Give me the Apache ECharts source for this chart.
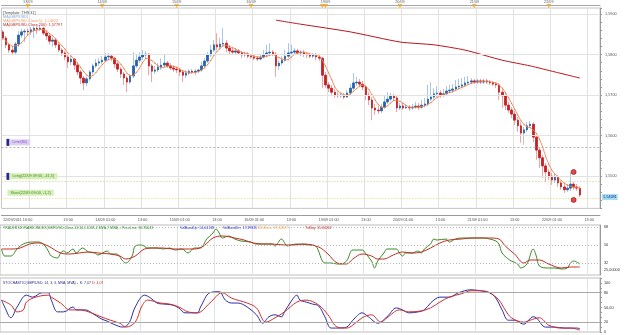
<!DOCTYPE html>
<html>
<head>
<meta charset="utf-8">
<script src="https://cdn.jsdelivr.net/npm/echarts@6/dist/echarts.min.js"></script>
<style>
  html, body { margin: 0; padding: 0; background: #fff; }
  #chart { width: 625px; height: 335px; }
</style>
</head>
<body>
<div id="chart"></div>
<script>
// trading sessions (hourly bars, weekend removed)
const sessions = [
  ['12/09', 16, 23], ['13/09', 0, 23], ['14/09', 0, 23], ['15/09', 0, 23], ['16/09', 0, 23],
  ['19/09', 0, 23], ['20/09', 0, 23], ['21/09', 0, 23], ['22/09', 0, 16]
];
const days = [];
const hours = [];
sessions.forEach(([d, a, b]) => {
  for (let h = a; h <= b; h++) { days.push(d); hours.push(h); }
});
const categories = hours.map((h, i) => days[i] + ' ' + String(h).padStart(2, '0') + ':00');

// GBP/USD hourly candles
const opens = [
  1.5856, 1.5841, 1.5824, 1.5811, 1.5806, 1.5826, 1.5848, 1.5856, 1.5858, 1.5856,
  1.5861, 1.5865, 1.5863, 1.5865, 1.5853, 1.5846, 1.5833, 1.5836, 1.5824, 1.5811,
  1.5804, 1.5794, 1.5782, 1.5789, 1.5774, 1.5757, 1.5742, 1.5730, 1.5740, 1.5757,
  1.5772, 1.5779, 1.5782, 1.5786, 1.5794, 1.5796, 1.5791, 1.5777, 1.5764, 1.5752,
  1.5742, 1.5732, 1.5747, 1.5772, 1.5786, 1.5794, 1.5799, 1.5801, 1.5772, 1.5759,
  1.5762, 1.5769, 1.5774, 1.5779, 1.5772, 1.5767, 1.5764, 1.5762, 1.5757, 1.5749,
  1.5754, 1.5759, 1.5757, 1.5759, 1.5762, 1.5772, 1.5784, 1.5799, 1.5811, 1.5824,
  1.5819, 1.5826, 1.5828, 1.5816, 1.5809, 1.5806, 1.5809, 1.5804, 1.5799, 1.5801,
  1.5796, 1.5794, 1.5791, 1.5789, 1.5794, 1.5799, 1.5804, 1.5806, 1.5801, 1.5772,
  1.5779, 1.5786, 1.5796, 1.5804, 1.5806, 1.5809, 1.5804, 1.5806, 1.5801, 1.5799,
  1.5796, 1.5799, 1.5794, 1.5791, 1.5749, 1.5725, 1.5717, 1.5707, 1.5700, 1.5698,
  1.5700, 1.5695, 1.5705, 1.5717, 1.5730, 1.5732, 1.5727, 1.5720, 1.5700, 1.5688,
  1.5668, 1.5663, 1.5661, 1.5670, 1.5683, 1.5690, 1.5698, 1.5693, 1.5668, 1.5673,
  1.5668, 1.5670, 1.5668, 1.5670, 1.5673, 1.5670, 1.5675, 1.5678, 1.5690, 1.5695,
  1.5703, 1.5705, 1.5700, 1.5703, 1.5710, 1.5712, 1.5715, 1.5720, 1.5722, 1.5725,
  1.5730, 1.5732, 1.5735, 1.5732, 1.5735, 1.5732, 1.5735, 1.5732, 1.5730, 1.5727,
  1.5725, 1.5707, 1.5698, 1.5675, 1.5663, 1.5653, 1.5638, 1.5624, 1.5606, 1.5614,
  1.5624, 1.5628, 1.5596, 1.5564, 1.5545, 1.5525, 1.5510, 1.5500, 1.5490, 1.5498,
  1.5483, 1.5473, 1.5466, 1.5470, 1.5480, 1.5473, 1.5470
];
const closes = [
  1.5841, 1.5824, 1.5811, 1.5806, 1.5826, 1.5848, 1.5856, 1.5858, 1.5856, 1.5861,
  1.5865, 1.5863, 1.5865, 1.5853, 1.5846, 1.5833, 1.5836, 1.5824, 1.5811, 1.5804,
  1.5794, 1.5782, 1.5789, 1.5774, 1.5757, 1.5742, 1.5730, 1.5740, 1.5757, 1.5772,
  1.5779, 1.5782, 1.5786, 1.5794, 1.5796, 1.5791, 1.5777, 1.5764, 1.5752, 1.5742,
  1.5732, 1.5747, 1.5772, 1.5786, 1.5794, 1.5799, 1.5801, 1.5772, 1.5759, 1.5762,
  1.5769, 1.5774, 1.5779, 1.5772, 1.5767, 1.5764, 1.5762, 1.5757, 1.5749, 1.5754,
  1.5759, 1.5757, 1.5759, 1.5762, 1.5772, 1.5784, 1.5799, 1.5811, 1.5824, 1.5819,
  1.5826, 1.5828, 1.5816, 1.5809, 1.5806, 1.5809, 1.5804, 1.5799, 1.5801, 1.5796,
  1.5794, 1.5791, 1.5789, 1.5794, 1.5799, 1.5804, 1.5806, 1.5801, 1.5772, 1.5779,
  1.5786, 1.5796, 1.5804, 1.5806, 1.5809, 1.5804, 1.5806, 1.5801, 1.5799, 1.5796,
  1.5799, 1.5794, 1.5791, 1.5749, 1.5725, 1.5717, 1.5707, 1.5700, 1.5698, 1.5700,
  1.5695, 1.5705, 1.5717, 1.5730, 1.5732, 1.5727, 1.5720, 1.5700, 1.5688, 1.5668,
  1.5663, 1.5661, 1.5670, 1.5683, 1.5690, 1.5698, 1.5693, 1.5668, 1.5673, 1.5668,
  1.5670, 1.5668, 1.5670, 1.5673, 1.5670, 1.5675, 1.5678, 1.5690, 1.5695, 1.5703,
  1.5705, 1.5700, 1.5703, 1.5710, 1.5712, 1.5715, 1.5720, 1.5722, 1.5725, 1.5730,
  1.5732, 1.5735, 1.5732, 1.5735, 1.5732, 1.5735, 1.5732, 1.5730, 1.5727, 1.5725,
  1.5707, 1.5698, 1.5675, 1.5663, 1.5653, 1.5638, 1.5624, 1.5606, 1.5614, 1.5624,
  1.5628, 1.5596, 1.5564, 1.5545, 1.5525, 1.5510, 1.5500, 1.5490, 1.5498, 1.5483,
  1.5473, 1.5466, 1.5470, 1.5480, 1.5473, 1.5470, 1.5453
];
const highs = [
  1.5861, 1.5846, 1.5828, 1.5819, 1.5831, 1.5858, 1.5863, 1.5863, 1.5865, 1.5868,
  1.5870, 1.5870, 1.5873, 1.5868, 1.5858, 1.5851, 1.5843, 1.5841, 1.5828, 1.5816,
  1.5809, 1.5799, 1.5796, 1.5791, 1.5779, 1.5762, 1.5747, 1.5745, 1.5762, 1.5777,
  1.5789, 1.5791, 1.5796, 1.5804, 1.5804, 1.5801, 1.5794, 1.5782, 1.5769, 1.5757,
  1.5747, 1.5752, 1.5806, 1.5799, 1.5806, 1.5811, 1.5809, 1.5804, 1.5777, 1.5772,
  1.5779, 1.5791, 1.5799, 1.5784, 1.5779, 1.5772, 1.5769, 1.5767, 1.5762, 1.5762,
  1.5764, 1.5764, 1.5764, 1.5764, 1.5782, 1.5791, 1.5806, 1.5824, 1.5836, 1.5853,
  1.5841, 1.5865, 1.5836, 1.5824, 1.5816, 1.5816, 1.5814, 1.5809, 1.5806, 1.5806,
  1.5801, 1.5799, 1.5796, 1.5799, 1.5811, 1.5824, 1.5828, 1.5811, 1.5806, 1.5786,
  1.5796, 1.5811, 1.5828, 1.5824, 1.5816, 1.5814, 1.5811, 1.5811, 1.5806, 1.5804,
  1.5804, 1.5804, 1.5799, 1.5794, 1.5757, 1.5732, 1.5725, 1.5715, 1.5707, 1.5705,
  1.5705, 1.5712, 1.5727, 1.5754, 1.5745, 1.5740, 1.5735, 1.5725, 1.5707, 1.5695,
  1.5678, 1.5673, 1.5678, 1.5698, 1.5707, 1.5705, 1.5703, 1.5698, 1.5680, 1.5680,
  1.5678, 1.5675, 1.5678, 1.5683, 1.5680, 1.5688, 1.5693, 1.5725, 1.5732, 1.5717,
  1.5722, 1.5712, 1.5715, 1.5722, 1.5725, 1.5727, 1.5737, 1.5740, 1.5742, 1.5745,
  1.5747, 1.5742, 1.5740, 1.5740, 1.5740, 1.5740, 1.5740, 1.5737, 1.5735, 1.5732,
  1.5730, 1.5715, 1.5705, 1.5683, 1.5670, 1.5661, 1.5646, 1.5633, 1.5621, 1.5633,
  1.5636, 1.5633, 1.5601, 1.5572, 1.5552, 1.5532, 1.5517, 1.5508, 1.5505, 1.5503,
  1.5488, 1.5480, 1.5478, 1.5510, 1.5485, 1.5480, 1.5475
];
const lows = [
  1.5836, 1.5816, 1.5804, 1.5799, 1.5801, 1.5819, 1.5841, 1.5831, 1.5846, 1.5848,
  1.5841, 1.5851, 1.5858, 1.5848, 1.5836, 1.5824, 1.5819, 1.5816, 1.5806, 1.5796,
  1.5786, 1.5767, 1.5774, 1.5762, 1.5749, 1.5727, 1.5712, 1.5722, 1.5735, 1.5752,
  1.5767, 1.5772, 1.5777, 1.5782, 1.5786, 1.5784, 1.5767, 1.5757, 1.5742, 1.5725,
  1.5707, 1.5727, 1.5742, 1.5767, 1.5779, 1.5786, 1.5791, 1.5749, 1.5732, 1.5752,
  1.5757, 1.5762, 1.5769, 1.5767, 1.5762, 1.5757, 1.5754, 1.5747, 1.5732, 1.5742,
  1.5749, 1.5752, 1.5749, 1.5754, 1.5757, 1.5767, 1.5779, 1.5794, 1.5806, 1.5811,
  1.5811, 1.5819, 1.5806, 1.5801, 1.5801, 1.5801, 1.5799, 1.5791, 1.5794, 1.5791,
  1.5789, 1.5786, 1.5784, 1.5786, 1.5791, 1.5796, 1.5799, 1.5796, 1.5745, 1.5762,
  1.5774, 1.5782, 1.5791, 1.5799, 1.5801, 1.5799, 1.5796, 1.5794, 1.5791, 1.5791,
  1.5791, 1.5786, 1.5784, 1.5717, 1.5717, 1.5707, 1.5698, 1.5693, 1.5693, 1.5693,
  1.5690, 1.5693, 1.5700, 1.5712, 1.5722, 1.5720, 1.5712, 1.5688, 1.5675, 1.5638,
  1.5651, 1.5653, 1.5656, 1.5666, 1.5678, 1.5685, 1.5685, 1.5658, 1.5663, 1.5663,
  1.5666, 1.5661, 1.5663, 1.5666, 1.5663, 1.5666, 1.5670, 1.5673, 1.5685, 1.5690,
  1.5695, 1.5693, 1.5695, 1.5698, 1.5705, 1.5707, 1.5710, 1.5715, 1.5717, 1.5720,
  1.5725, 1.5727, 1.5727, 1.5727, 1.5727, 1.5727, 1.5727, 1.5725, 1.5722, 1.5717,
  1.5688, 1.5668, 1.5663, 1.5656, 1.5643, 1.5626, 1.5609, 1.5582, 1.5577, 1.5609,
  1.5619, 1.5584, 1.5540, 1.5520, 1.5495, 1.5485, 1.5490, 1.5478, 1.5483, 1.5473,
  1.5466, 1.5458, 1.5461, 1.5463, 1.5466, 1.5463, 1.5448
];

// MA 200 as drawn (bar index, value)
const ma200 = [
  [88, 1.5885], [96, 1.5875], [112, 1.5856], [128, 1.5831], [139, 1.5824],
  [149, 1.5811], [161, 1.5786], [170, 1.5772], [178, 1.5757], [186, 1.5742]
];

// order levels and markers
const limitLevel = 1.5572;
const longLevel = 1.5488;
const shortLevel = 1.5446;
const lastPrice = 1.5448;
const tradeMarks = [[184, 1.5510], [184, 1.5441]];

const priceTicks = [1.55, 1.56, 1.57, 1.58, 1.59];

// Traders Dynamic Index
const tdiPriceLine = [
  [0,46],[1,39],[3,39],[5,46],[7,51],[10,53],[12,53],[14,49],[15,44],[16,39],
  [18,37],[19,42],[20,44],[21,42],[23,46],[24,42],[26,47],[28,43],[30,42],[31,40],
  [34,44],[35,41],[37,41],[39,34],[40,32],[42,39],[43,49],[45,50],[47,47],[50,47],
  [52,46],[54,47],[56,45],[58,46],[60,42],[62,47],[64,47],[66,56],[68,62],[69,66],
  [70,62],[71,57],[73,59],[75,56],[77,54],[80,53],[82,51],[84,51],[87,51],[88,49],
  [90,56],[92,49],[93,50],[95,51],[99,50],[101,49],[104,32],[106,32],[108,31],[109,31],
  [111,34],[113,45],[116,45],[117,42],[119,34],[120,27],[121,34],[123,42],[124,46],[127,46],
  [128,42],[129,39],[130,42],[132,42],[134,44],[135,42],[136,46],[138,51],[139,56],[140,55],
  [143,56],[144,53],[146,56],[148,57],[150,57],[152,57],[155,57],[157,56],[159,54],[160,51],
  [161,42],[163,36],[164,34],[166,31],[167,27],[169,31],[171,46],[172,39],[173,29],[176,27],
  [178,27],[180,26],[182,27],[183,32],[184,34],[186,31]
];
const tdiSignal = [
  [0,46],[3,46],[6,47],[9,51],[12,52],[15,49],[19,42],[22,41],[25,42],[28,43],
  [31,42],[35,41],[38,39],[40,36],[43,39],[46,46],[49,47],[52,47],[55,46],[59,46],
  [62,46],[65,49],[68,57],[71,59],[75,57],[78,55],[81,52],[84,51],[87,51],[91,50],
  [94,50],[97,51],[102,48],[105,41],[108,32],[111,31],[113,36],[116,41],[119,39],[121,36],
  [123,36],[126,40],[129,43],[132,42],[135,43],[138,47],[141,52],[144,55],[148,56],[151,57],
  [154,57],[157,57],[160,56],[162,49],[165,41],[168,32],[170,35],[173,35],[176,31],[180,27],
  [183,28],[186,28]
];
const tdiLevels = [32, 50, 68];

// Stochastic 14,3,3
const stochK = [
  [0,65],[1,51],[3,29],[5,51],[8,75],[10,71],[13,80],[15,80],[16,65],[18,41],
  [20,41],[23,51],[24,45],[27,45],[29,39],[32,27],[34,22],[36,16],[39,10],[41,18],
  [43,51],[46,75],[48,69],[50,59],[52,57],[55,55],[57,49],[59,39],[63,39],[64,51],
  [67,80],[70,82],[72,65],[74,59],[76,59],[79,51],[82,35],[84,18],[86,31],[88,35],
  [90,31],[91,41],[93,61],[95,75],[96,65],[98,61],[100,57],[102,53],[104,31],[106,8],
  [108,8],[111,10],[113,24],[116,39],[118,31],[121,18],[124,31],[127,49],[129,45],[131,39],
  [134,41],[136,45],[138,59],[141,71],[144,71],[147,80],[151,86],[154,84],[157,80],[159,69],
  [161,45],[163,24],[165,24],[167,18],[168,16],[171,31],[172,29],[175,10],[178,10],[181,8],
  [185,8],[186,7]
];
const stochD = [
  [0,65],[3,55],[5,41],[7,45],[8,61],[11,71],[15,75],[16,71],[19,59],[22,45],
  [25,45],[28,41],[32,31],[35,24],[38,18],[40,10],[43,20],[45,51],[47,65],[51,59],
  [54,57],[57,51],[60,41],[63,39],[67,59],[71,80],[74,69],[79,59],[82,49],[85,20],
  [88,29],[91,41],[95,61],[98,65],[102,55],[105,35],[108,10],[111,8],[113,14],[116,29],
  [119,35],[122,20],[124,29],[128,45],[131,41],[135,43],[138,49],[141,61],[144,71],[148,78],
  [151,84],[154,84],[157,80],[160,65],[162,45],[164,29],[168,20],[170,24],[173,29],[176,14],
  [180,8],[183,8],[186,4]
];
const stochLevels = [20, 80];

// --- build
const candleData = opens.map((o, i) => [o, closes[i], lows[i], highs[i]]);
const bodyData = opens.map((o, i) => [o, closes[i], Math.min(o, closes[i]), Math.max(o, closes[i])]);
const ma5 = closes.map((c, i) => {
  const s = closes.slice(Math.max(0, i - 4), i + 1);
  return +(s.reduce((a, b) => a + b, 0) / s.length).toFixed(5);
});

const yMainMin = 1.542;
const yMainMax = 1.5915;

const dayMarks = [];
hours.forEach((h, i) => {
  if (h === 0) {
    if (i > 0 && parseInt(days[i]) - parseInt(days[i - 1]) > 1) dayMarks.push([i - 1, yMainMax]);
    dayMarks.push([i, yMainMax]);
  }
});

const FONT = 'Liberation Sans';
const FS = 3.8;
const FS_SMALL = 3.5;
const gridLine = i => hours[i] === 1 || hours[i] === 13;
const fmtPrice = v => v.toFixed(4).replace('.', ',');
const isTick = (list, v) => list.some(t => Math.abs(t - v) < 1e-7);

const titleTxt = (text, left, top, color, size) => ({
  text, left, top, padding: 0,
  textStyle: { fontSize: size || FS, fontWeight: 'normal', color, fontFamily: FONT }
});

const hiddenX = (gi) => ({
  type: 'category', gridIndex: gi, data: categories, boundaryGap: true,
  axisLine: { show: false }, axisTick: { show: false }, axisLabel: { show: false },
  splitLine: { show: true, interval: gridLine, lineStyle: { color: '#e2e2e2' } }
});

const chart = echarts.init(document.getElementById('chart'));
chart.setOption({
  animation: false,
  backgroundColor: '#ffffff',
  textStyle: { fontFamily: FONT },
  title: [
    titleTxt('[Template: THS 31]', 3, 11, '#505050'),
    titleTxt('MA(GBP/USD)', 3, 15, '#7fa8dc'),
    titleTxt('MA(GBP/USD,Close,5): 1,54622', 3, 19, '#f09a66'),
    titleTxt('MA(GBP/USD,Close,200): 1,57797', 3, 23, '#c02828'),
    titleTxt('TRADERSDYNAMICINDEX(GBP/USD,Close,13,34,1.6185,2,MVA,7,MVA) -', 3, 226, '#2f8a2f', FS_SMALL),
    titleTxt('PriceLine: 30,95643', 122, 226, '#2f8a2f', FS_SMALL),
    titleTxt('VolBandUp: 54,64138', 180, 226, '#2a36c8', FS_SMALL),
    titleTxt('VolBandDn: 17,39835', 223, 226, '#2a36c8', FS_SMALL),
    titleTxt('MktBase: 36,64867', 258, 226, '#f0b060', FS_SMALL),
    titleTxt('TrdSig: 35,84262', 305, 226, '#c82828', FS_SMALL),
    titleTxt('STOCHASTIC(GBP/USD, 14, 3, 3, MVA, MVA) -  K: 7,07', 3, 281, '#2a2a90', FS_SMALL),
    titleTxt('D: 4,07', 92, 281, '#c82828', FS_SMALL)
  ],
  grid: [
    { left: 0, right: 25, top: 8, height: 200.4, show: true, borderColor: '#c4c4c4', borderWidth: 1 },
    { left: 0, right: 25, top: 225, height: 50, show: true, borderColor: '#bdbdbd', borderWidth: 1 },
    { left: 0, right: 25, top: 278, height: 54, show: true, borderColor: '#bdbdbd', borderWidth: 1 }
  ],
  xAxis: [
    {
      type: 'category', gridIndex: 0, position: 'top', offset: 3, data: categories, boundaryGap: true,
      axisLine: { lineStyle: { color: '#a8a8a8' } },
      axisTick: { inside: true, length: 2, alignWithLabel: true, interval: i => hours[i] % 4 === 0, lineStyle: { color: '#a8a8a8' } },
      axisLabel: { interval: i => hours[i] === 0, formatter: v => v.slice(0, 5), fontSize: FS, color: '#666', margin: 1 },
      splitLine: { show: false }
    },
    {
      type: 'category', gridIndex: 0, position: 'bottom', offset: 7, data: categories, boundaryGap: true,
      axisLine: { lineStyle: { color: '#9a9a9a' } },
      axisTick: { inside: true, length: 4, alignWithLabel: true, interval: i => hours[i] % 4 === 1, lineStyle: { color: '#9a9a9a' } },
      axisLabel: {
        interval: i => i === 0 || (i > 12 && gridLine(i)),
        formatter: (v, i) => i === 0 ? '12/09/2011 16:00' : (hours[i] === 1 ? days[i] + ' 01:00' : '13:00'),
        fontSize: FS, color: '#555', margin: 3, alignMinLabel: 'left'
      },
      splitLine: { show: true, interval: gridLine, lineStyle: { color: '#e2e2e2' } }
    },
    hiddenX(1),
    hiddenX(2)
  ],
  yAxis: [
    {
      type: 'value', gridIndex: 0, position: 'right', min: yMainMin, max: yMainMax, interval: 0.002,
      axisLine: { show: true, lineStyle: { color: '#9a9a9a' } },
      axisTick: { show: true, length: 2, lineStyle: { color: '#9a9a9a' } },
      axisLabel: { formatter: v => isTick(priceTicks, v) ? fmtPrice(v) : '', fontSize: FS, color: '#555', margin: 5 },
      splitLine: { show: false }
    },
    {
      type: 'value', gridIndex: 1, position: 'right', min: 20, max: 70, interval: 1,
      axisLine: { show: true, lineStyle: { color: '#9a9a9a' } },
      axisTick: { show: false },
      axisLabel: {
        formatter: v => tdiLevels.includes(v) ? String(v) : (v === 25 ? '25,00000' : ''),
        fontSize: FS, color: '#333', margin: 4
      },
      splitLine: { show: false }
    },
    {
      type: 'value', gridIndex: 2, position: 'right', min: 0, max: 110, interval: 10,
      axisLine: { show: true, lineStyle: { color: '#9a9a9a' } },
      axisTick: { show: true, length: 2, lineStyle: { color: '#9a9a9a' } },
      axisLabel: {
        formatter: v => v === 50 ? '50,00' : ([0, 20, 80, 100].includes(v) ? String(v) : ''),
        fontSize: FS, color: '#333', margin: 4
      },
      splitLine: { show: false }
    }
  ],
  series: [
    {
      name: 'wicks', type: 'candlestick', xAxisIndex: 1, yAxisIndex: 0, data: candleData, barWidth: 1,
      itemStyle: { color: '#a9c6e6', color0: '#f0a4a4', borderColor: '#a9c6e6', borderColor0: '#f0a4a4', borderWidth: 1 },
      markLine: {
        silent: true, precision: 5, symbol: ['none', 'none'], label: { show: false },
        lineStyle: { color: '#e2e2e2', type: 'solid', width: 1 },
        data: priceTicks.map(v => ({ yAxis: v }))
      }
    },
    {
      name: 'GBP/USD', type: 'candlestick', xAxisIndex: 1, yAxisIndex: 0, data: bodyData, barWidth: 2,
      itemStyle: { color: '#2462aa', color0: '#c41e22', borderColor: '#2462aa', borderColor0: '#c41e22', borderWidth: 0.8 },
      markLine: {
        silent: true, precision: 5, symbol: ['none', 'none'],
        data: [
          {
            yAxis: limitLevel, lineStyle: { color: '#b4b4b4', type: [2, 2], width: 1 },
            label: {
              position: 'insideStartTop', distance: [5, 1], formatter: '{sq|}{t|Limit(80)}',
              rich: {
                sq: { width: 3, height: 7, backgroundColor: '#27288a' },
                t: { fontSize: FS, color: '#8a5cc0', backgroundColor: '#dccff3', padding: [1, 3] }
              }
            }
          },
          {
            yAxis: longLevel, lineStyle: { color: '#c8d37c', type: [1, 2], width: 1 },
            label: {
              position: 'insideStartTop', distance: [5, 1], formatter: '{sq|}{t|Long(22/09 09:00, -41,5)}',
              rich: {
                sq: { width: 3, height: 7, backgroundColor: '#27288a' },
                t: { fontSize: FS, color: '#4f8a2a', backgroundColor: '#d4f0b8', padding: [1, 3] }
              }
            }
          },
          {
            yAxis: shortLevel, lineStyle: { color: '#e6d468', type: [1, 2], width: 1 },
            label: {
              position: 'insideStartTop', distance: [6, 2], formatter: '{t|Short(22/09 09:00, -1,2)}',
              rich: { t: { fontSize: FS, color: '#4f8a2a', backgroundColor: '#d4f0b8', padding: [1, 3] } }
            }
          },
          {
            yAxis: lastPrice, lineStyle: { color: 'rgba(0,0,0,0)', width: 0 },
            label: {
              position: 'end', distance: 2, formatter: '1,54681', fontSize: FS,
              color: '#103070', backgroundColor: '#a6dcf4', padding: [1, 1]
            }
          }
        ]
      }
    },
    {
      name: 'MA5', type: 'line', xAxisIndex: 1, yAxisIndex: 0, data: ma5,
      symbol: 'circle', symbolSize: 1, showSymbol: true,
      itemStyle: { color: '#e4603a' },
      lineStyle: { color: '#f08a52', width: 0.9 }, z: 3
    },
    {
      name: 'MA200', type: 'line', xAxisIndex: 1, yAxisIndex: 0, data: ma200,
      showSymbol: false, smooth: 0.2, lineStyle: { color: '#b8161c', width: 1 }, z: 3
    },
    {
      name: 'days', type: 'scatter', xAxisIndex: 0, yAxisIndex: 0, data: dayMarks, clip: false,
      symbol: 'triangle', symbolRotate: 180, symbolSize: [5, 4], symbolOffset: [0, -2],
      itemStyle: { color: '#f2a51c' }, z: 5, silent: true
    },
    {
      name: 'orders', type: 'scatter', xAxisIndex: 1, yAxisIndex: 0, data: tradeMarks,
      symbol: 'circle', symbolSize: 5,
      itemStyle: { color: '#d42020', borderColor: '#8a1010', borderWidth: 0.8 }, z: 6
    },
    {
      name: 'PriceLine', type: 'line', xAxisIndex: 2, yAxisIndex: 1, data: tdiPriceLine,
      showSymbol: false, smooth: 0.35, lineStyle: { color: '#3a8a26', width: 1 },
      markLine: {
        silent: true, precision: 5, symbol: ['none', 'none'], label: { show: false },
        lineStyle: { color: '#b8b8b8', type: [1, 2], width: 1 },
        data: tdiLevels.map(v => ({ yAxis: v }))
      }
    },
    {
      name: 'TrdSig', type: 'line', xAxisIndex: 2, yAxisIndex: 1, data: tdiSignal,
      showSymbol: false, smooth: 0.35, lineStyle: { color: '#c42a22', width: 1 }
    },
    {
      name: 'K', type: 'line', xAxisIndex: 3, yAxisIndex: 2, data: stochK,
      showSymbol: false, smooth: 0.35, lineStyle: { color: '#2c2ca6', width: 1 },
      markLine: {
        silent: true, precision: 5, symbol: ['none', 'none'], label: { show: false },
        lineStyle: { color: '#a8a8a8', type: 'solid', width: 1 },
        data: stochLevels.map(v => ({ yAxis: v }))
      }
    },
    {
      name: 'D', type: 'line', xAxisIndex: 3, yAxisIndex: 2, data: stochD,
      showSymbol: false, smooth: 0.35, lineStyle: { color: '#cc3030', width: 1 }
    }
  ]
});
</script>
</body>
</html>
